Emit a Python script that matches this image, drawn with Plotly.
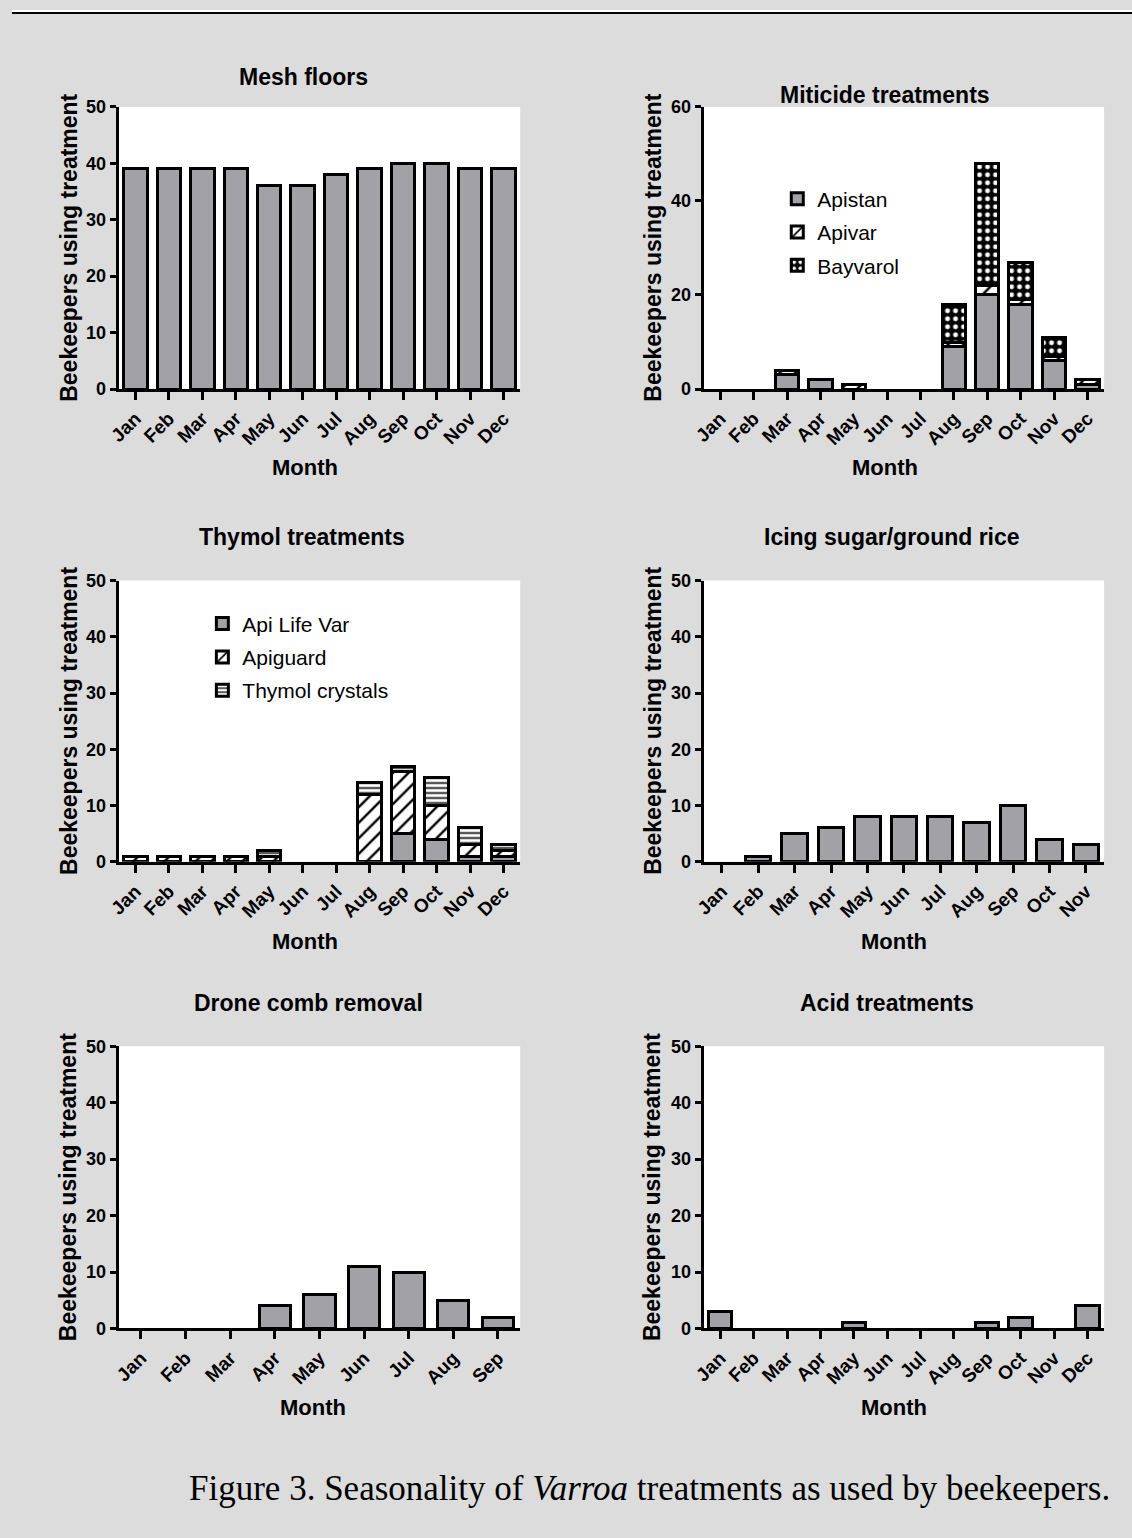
import plotly.graph_objects as go

W, H = 1132, 1538
OFF = 8  # page body margin around the figure
# the rendered page (figure + body margins) is photographed and fitted to 1132x1538
SX = W / (W + OFF)
SY = H / (H + 2 * OFF)

months = ["Jan", "Feb", "Mar", "Apr", "May", "Jun", "Jul", "Aug", "Sep", "Oct", "Nov", "Dec"]

# Mesh floors
mesh_months = months
mesh_values = [39, 39, 39, 39, 36, 36, 38, 39, 40, 40, 39, 39]

# Miticide treatments (stacked)
miti_months = months
apistan = [0, 0, 3, 2, 0, 0, 0, 9, 20, 18, 6, 1]
apivar = [0, 0, 1, 0, 1, 0, 0, 1, 2, 1, 1, 1]
bayvarol = [0, 0, 0, 0, 0, 0, 0, 8, 26, 8, 4, 0]

# Thymol treatments (stacked)
thy_months = months
api_life_var = [0, 0, 0, 0, 0, 0, 0, 0, 5, 4, 1, 1]
apiguard = [1, 1, 1, 1, 1, 0, 0, 12, 11, 6, 2, 1]
thymol_crystals = [0, 0, 0, 0, 1, 0, 0, 2, 1, 5, 3, 1]

# Icing sugar / ground rice
icing_months = months[:11]
icing_values = [0, 1, 5, 6, 8, 8, 8, 7, 10, 4, 3]

# Drone comb removal
drone_months = months[:9]
drone_values = [0, 0, 0, 4, 6, 11, 10, 5, 2]

# Acid treatments
acid_months = months
acid_values = [3, 0, 0, 0, 1, 0, 0, 0, 1, 2, 0, 4]

GRAY = "#a2a1a6"
FONT = "Liberation Sans, Arial, sans-serif"


def fx(px):
    return (px / SX - OFF) / W


def fy(py):
    return 1 - (py / SY - OFF) / H


def nz(vals):
    # zero-height segments are not drawn in the original
    return [v if v else None for v in vals]


panels = [
    # (x0, x1, ytop, ybottom) in photographed pixels
    (115, 518, 105, 388),
    (702, 1104, 105, 388),
    (115, 518, 580, 862),
    (702, 1104, 580, 862),
    (115, 518, 1047, 1330),
    (702, 1104, 1047, 1330),
]

fig = go.Figure()

line = dict(color="black", width=3)


def bar(x, y, name, xa, ya, pattern=None, color=GRAY, showlegend=False, legend=None):
    kw = dict(
        x=x, y=nz(y), name=name, xaxis=xa, yaxis=ya,
        marker=dict(color=color, line=line),
        showlegend=showlegend, legendgroup=name,
        hoverinfo="x+y+name",
    )
    if pattern is not None:
        kw["marker"]["pattern"] = pattern
    if legend is not None:
        kw["legend"] = legend
    return go.Bar(**kw)


hatch = dict(shape="/", fgcolor="black", bgcolor="white", size=11, solidity=0.22, fillmode="replace")
horiz = dict(shape="-", fgcolor="black", bgcolor="white", size=5, solidity=0.32, fillmode="replace")
checker = dict(shape=".", fgcolor="white", bgcolor="black", size=8, solidity=0.3, fillmode="replace")

fig.add_trace(bar(mesh_months, mesh_values, "Mesh floors", "x", "y"))

fig.add_trace(bar(miti_months, apistan, "Apistan", "x2", "y2", showlegend=True, legend="legend"))
fig.add_trace(bar(miti_months, apivar, "Apivar", "x2", "y2", pattern=hatch, color="white", showlegend=True, legend="legend"))
fig.add_trace(bar(miti_months, bayvarol, "Bayvarol", "x2", "y2", pattern=checker, color="black", showlegend=True, legend="legend"))

fig.add_trace(bar(thy_months, api_life_var, "Api Life Var", "x3", "y3", showlegend=True, legend="legend2"))
fig.add_trace(bar(thy_months, apiguard, "Apiguard", "x3", "y3", pattern=hatch, color="white", showlegend=True, legend="legend2"))
fig.add_trace(bar(thy_months, thymol_crystals, "Thymol crystals", "x3", "y3", pattern=horiz, color="white", showlegend=True, legend="legend2"))

fig.add_trace(bar(icing_months, icing_values, "Icing sugar/ground rice", "x4", "y4"))
fig.add_trace(bar(drone_months, drone_values, "Drone comb removal", "x5", "y5"))
fig.add_trace(bar(acid_months, acid_values, "Acid treatments", "x6", "y6"))

cats = [mesh_months, miti_months, thy_months, icing_months, drone_months, acid_months]
yranges = [50, 60, 50, 50, 50, 50]
ydticks = [10, 20, 10, 10, 10, 10]

layout = dict(
    width=W, height=H,
    margin=dict(l=0, r=0, t=0, b=0),
    paper_bgcolor="#dcdcdc",
    plot_bgcolor="white",
    barmode="stack",
    bargap=0.3,
    font=dict(family=FONT, color="black"),
)

for i, (x0, x1, yt, yb) in enumerate(panels):
    k = "" if i == 0 else str(i + 1)
    n = len(cats[i])
    layout["xaxis" + k] = dict(
        domain=[fx(x0), fx(x1)], anchor="y" + k,
        type="category", categoryorder="array", categoryarray=cats[i],
        range=[-0.5, n - 0.5],
        showline=True, linecolor="black", linewidth=3,
        ticks="outside", ticklen=8, tickwidth=2.5, tickcolor="black",
        tickangle=-45, tickfont=dict(family=FONT, size=19, weight="bold"),
        showgrid=False, zeroline=False, fixedrange=True,
    )
    layout["yaxis" + k] = dict(
        domain=[fy(yb), fy(yt)], anchor="x" + k,
        range=[0, yranges[i]], dtick=ydticks[i], tick0=0,
        showline=True, linecolor="black", linewidth=3,
        ticks="outside", ticklen=6, tickwidth=2.5, tickcolor="black",
        tickfont=dict(family=FONT, size=18, weight="bold"),
        showgrid=False, zeroline=False, fixedrange=True,
    )

layout["legend"] = dict(
    x=fx(776), y=fy(177), xanchor="left", yanchor="top",
    bgcolor="rgba(0,0,0,0)", font=dict(family=FONT, size=21),
    traceorder="grouped", tracegroupgap=3, itemwidth=30,
)
layout["legend2"] = dict(
    x=fx(199), y=fy(603), xanchor="left", yanchor="top",
    bgcolor="rgba(0,0,0,0)", font=dict(family=FONT, size=21),
    traceorder="grouped", tracegroupgap=3, itemwidth=30,
)

titles = ["Mesh floors", "Miticide treatments", "Thymol treatments",
          "Icing sugar/ground rice", "Drone comb removal", "Acid treatments"]
title_pos = [(301, 75), (884, 93), (299, 536), (891, 536), (306, 1004), (886, 1004)]
month_pos = [(302, 467), (884, 467), (302, 942), (893, 942), (310, 1409), (893, 1409)]
ylab_x = [65, 651, 65, 651, 65, 651]

ann = []
for i, (x0, x1, yt, yb) in enumerate(panels):
    tx, ty = title_pos[i]
    ann.append(dict(x=fx(tx), y=fy(ty), xref="paper", yref="paper", text=titles[i],
                    showarrow=False, xanchor="center", yanchor="middle",
                    font=dict(family=FONT, size=23, weight="bold")))
    mx, my = month_pos[i]
    ann.append(dict(x=fx(mx), y=fy(my), xref="paper", yref="paper", text="Month",
                    showarrow=False, xanchor="center", yanchor="middle",
                    font=dict(family=FONT, size=22, weight="bold")))
    ann.append(dict(x=fx(ylab_x[i]), y=fy((yt + yb) / 2), xref="paper", yref="paper",
                    text="Beekeepers using treatment", textangle=-90,
                    showarrow=False, xanchor="center", yanchor="middle",
                    font=dict(family=FONT, size=23, weight="bold")))

ann.append(dict(x=fx(184), y=fy(1490), xref="paper", yref="paper",
                text="Figure 3. Seasonality of <i>Varroa</i> treatments as used by beekeepers.",
                showarrow=False, xanchor="left", yanchor="middle",
                font=dict(family="Liberation Serif, Times New Roman, serif", size=35)))
layout["annotations"] = ann

layout["shapes"] = [
    dict(type="rect", xref="paper", yref="paper", x0=0, x1=1, y0=fy(11), y1=1,
         fillcolor="white", line=dict(width=0), layer="below"),
    dict(type="line", xref="paper", yref="paper", x0=0, x1=1, y0=fy(11), y1=fy(11),
         line=dict(color="black", width=2)),
]

fig.update_layout(**layout)
fig.write_html("out.html")
